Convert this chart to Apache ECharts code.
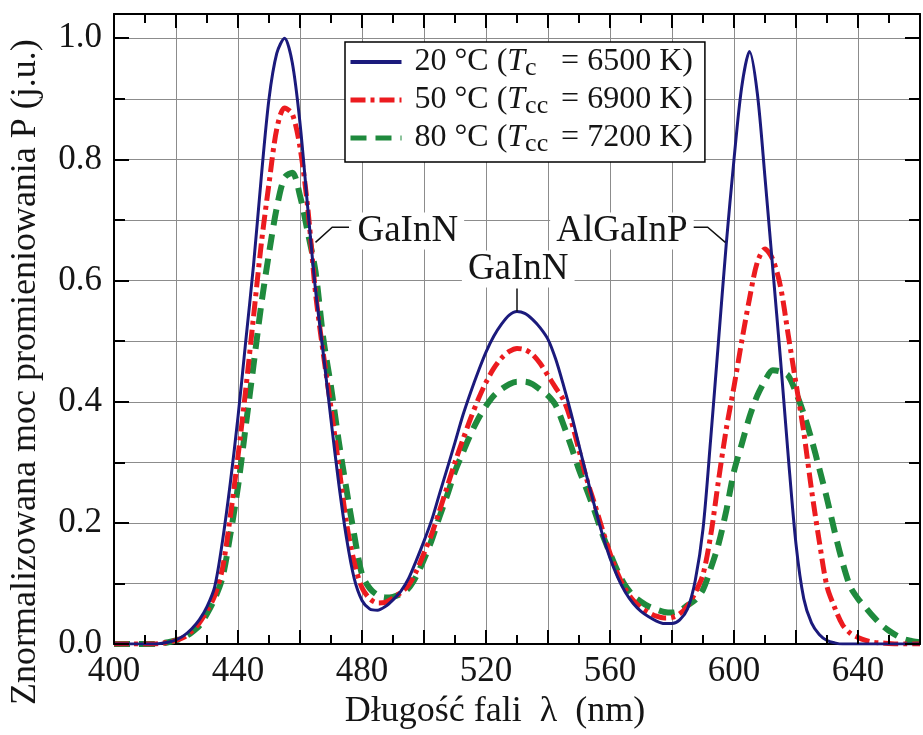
<!DOCTYPE html>
<html>
<head>
<meta charset="utf-8">
<script src="https://cdn.jsdelivr.net/npm/echarts@6/dist/echarts.min.js"></script>
<style>
  html, body { margin: 0; padding: 0; background: #ffffff; }
  #chart { width: 923px; height: 735px; }
</style>
</head>
<body>
<div id="chart"></div>
<script>
// Wavelength sampling (nm), one row per 20 nm
const wavelengths = [
  400, 402.5, 405, 407.5, 410, 412.5, 415, 417.5,
  420, 422.5, 425, 427.5, 430, 432.5, 435, 437.5,
  440, 442.5, 445, 447.5, 450, 452.5, 455, 457.5,
  460, 462.5, 465, 467.5, 470, 472.5, 475, 477.5,
  480, 482.5, 485, 487.5, 490, 492.5, 495, 497.5,
  500, 502.5, 505, 507.5, 510, 512.5, 515, 517.5,
  520, 522.5, 525, 527.5, 530, 532.5, 535, 537.5,
  540, 542.5, 545, 547.5, 550, 552.5, 555, 557.5,
  560, 562.5, 565, 567.5, 570, 572.5, 575, 577.5,
  580, 582.5, 585, 587.5, 590, 592.5, 595, 597.5,
  600, 602.5, 605, 607.5, 610, 612.5, 615, 617.5,
  620, 622.5, 625, 627.5, 630, 632.5, 635, 637.5,
  640, 642.5, 645, 647.5, 650, 652.5, 655, 657.5,
  660
];

// Normalised radiant power at 20 °C
const power20C = [
  0, 0, 0, 0, 0, 0, 0.001, 0.003,
  0.007, 0.014, 0.025, 0.04, 0.062, 0.095, 0.17, 0.265,
  0.375, 0.5, 0.625, 0.77, 0.9, 0.975, 1.0, 0.96,
  0.86, 0.72, 0.585, 0.48, 0.37, 0.265, 0.175, 0.108,
  0.072, 0.058, 0.056, 0.062, 0.073, 0.087, 0.108, 0.138,
  0.17, 0.205, 0.248, 0.29, 0.333, 0.377, 0.415, 0.45,
  0.482, 0.508, 0.528, 0.543, 0.549, 0.546, 0.536, 0.522,
  0.503, 0.47, 0.427, 0.38, 0.328, 0.277, 0.228, 0.182,
  0.142, 0.11, 0.085, 0.067, 0.054, 0.045, 0.038, 0.034,
  0.034, 0.04, 0.058, 0.105, 0.19, 0.34, 0.5, 0.66,
  0.8, 0.92, 0.978, 0.91, 0.77, 0.62, 0.47, 0.31,
  0.165, 0.075, 0.035, 0.016, 0.006, 0.002, 0, 0,
  0, 0, 0, 0, 0, 0, 0, 0,
  0
];

// Normalised radiant power at 50 °C
const power50C = [
  0, 0, 0, 0, 0, 0, 0.001, 0.003,
  0.006, 0.011, 0.021, 0.035, 0.055, 0.08, 0.125, 0.21,
  0.31, 0.42, 0.54, 0.66, 0.76, 0.85, 0.885, 0.875,
  0.82, 0.72, 0.58, 0.48, 0.39, 0.295, 0.2, 0.135,
  0.093, 0.075, 0.068, 0.069, 0.076, 0.085, 0.097, 0.12,
  0.15, 0.182, 0.22, 0.26, 0.3, 0.337, 0.372, 0.404,
  0.432, 0.455, 0.472, 0.483, 0.488, 0.486, 0.478, 0.463,
  0.443, 0.423, 0.403, 0.368, 0.32, 0.272, 0.232, 0.19,
  0.15, 0.116, 0.09, 0.072, 0.06, 0.052, 0.046, 0.043,
  0.044, 0.05, 0.063, 0.085, 0.115, 0.18, 0.27, 0.355,
  0.425, 0.5, 0.57, 0.63, 0.652, 0.635, 0.59, 0.51,
  0.43, 0.35, 0.255, 0.17, 0.095, 0.06, 0.032, 0.018,
  0.011, 0.006, 0.003, 0.002, 0.001, 0, 0, 0,
  0
];

// Normalised radiant power at 80 °C
const power80C = [
  0, 0, 0, 0, 0, 0, 0.001, 0.003,
  0.006, 0.011, 0.019, 0.03, 0.05, 0.075, 0.11, 0.18,
  0.26, 0.36, 0.46, 0.56, 0.645, 0.72, 0.77, 0.778,
  0.74, 0.68, 0.615, 0.505, 0.425, 0.335, 0.255, 0.18,
  0.115, 0.092, 0.081, 0.077, 0.078, 0.083, 0.092, 0.112,
  0.14, 0.172, 0.21, 0.246, 0.285, 0.316, 0.346, 0.372,
  0.393, 0.41, 0.421, 0.429, 0.433, 0.433, 0.429, 0.42,
  0.41, 0.394, 0.362, 0.326, 0.288, 0.255, 0.22, 0.182,
  0.15, 0.12, 0.096, 0.08, 0.07, 0.062, 0.057, 0.053,
  0.052, 0.055, 0.064, 0.073, 0.09, 0.125, 0.165, 0.22,
  0.285, 0.33, 0.375, 0.41, 0.435, 0.452, 0.45, 0.443,
  0.415, 0.38, 0.338, 0.29, 0.24, 0.185, 0.135, 0.095,
  0.075, 0.06, 0.045, 0.032, 0.022, 0.014, 0.008, 0.005,
  0.003
];

const seriesNames = ['20 °C', '50 °C', '80 °C'];
const colourTemps = ['6500', '6900', '7200'];
const cctSubscripts = ['c', 'cc', 'cc'];
const xTickLabels = [400, 440, 480, 520, 560, 600, 640];
const yTickLabels = [0, 0.2, 0.4, 0.6, 0.8, 1.0];

const X_MIN = 400, X_MAX = 660, X_GRID_STEP = 20, X_TICK_STEP = 10;
const Y_MIN = 0, Y_MAX = 1.04, Y_GRID_STEP = 0.1, Y_LONG_TICK_STEP = 0.2;

const SERIF = '"Liberation Serif", "Times New Roman", serif';
const INK = '#151515';
const GRID_GREY = '#8c8c8c';

const lineStyles = [
  { color: '#1b1a7c', width: 3, type: 'solid' },
  { color: '#ec1b1f', width: 5, type: [15, 5, 4, 5] },
  { color: '#1f8a3d', width: 6, type: [16, 9] }
];

// Peak labels: text anchor and leader polyline, in data coordinates
const peakNotes = [
  { text: 'GaInN',   at: [476.6, 0.682], align: 'left',   leader: [[465.0, 0.663], [470.4, 0.688], [475.8, 0.688]] },
  { text: 'GaInN',   at: [530.4, 0.619], align: 'center', leader: [[530.0, 0.587], [530.0, 0.549]] },
  { text: 'AlGaInP', at: [587.0, 0.682], align: 'right',  leader: [[586.7, 0.688], [591.5, 0.688], [597.2, 0.663]] }
];

const pairs = vals => wavelengths.map((w, i) => [w, vals[i]]);
const seriesValues = [power20C, power50C, power80C];

const isOn = (v, list) => list.some(t => Math.abs(t - v) < 1e-6);
const isMultiple = (v, step) => Math.abs(v / step - Math.round(v / step)) < 1e-6;
const blackLine = () => ({ color: '#000', width: 2 });

function xAxisDef(pos, withLabels) {
  return {
    type: 'value', position: pos, min: X_MIN, max: X_MAX, interval: X_GRID_STEP,
    axisLine: { show: true, onZero: false, lineStyle: blackLine() },
    axisTick: { show: false },
    splitLine: { show: withLabels, lineStyle: { color: GRID_GREY, width: 1 } },
    axisLabel: {
      show: withLabels, margin: 10, color: INK, fontFamily: SERIF, fontSize: 35,
      formatter: v => isOn(v, xTickLabels) ? String(v) : ''
    }
  };
}

function yAxisDef(pos, withGrid, withLabels) {
  return {
    type: 'value', position: pos, min: Y_MIN, max: Y_MAX, interval: Y_GRID_STEP,
    axisLine: { show: true, onZero: false, lineStyle: blackLine() },
    axisTick: { show: false },
    splitLine: { show: withGrid, lineStyle: { color: GRID_GREY, width: 1 } },
    axisLabel: {
      show: withLabels, margin: 12, color: INK, fontFamily: SERIF, fontSize: 35,
      formatter: v => isOn(v, yTickLabels) ? v.toFixed(1) : ''
    }
  };
}

const bottomAxis = xAxisDef('bottom', true);
bottomAxis.name = 'Długość fali  λ  (nm)';
bottomAxis.nameLocation = 'middle';
bottomAxis.nameGap = 48;
bottomAxis.nameTextStyle = { fontFamily: SERIF, fontSize: 36, color: INK, padding: [0, 44, 0, 0] };

const leftAxis = yAxisDef('left', true, true);
leftAxis.name = 'Znormalizowana moc promieniowania P (j.u.)';
leftAxis.nameLocation = 'middle';
leftAxis.nameGap = 70;
leftAxis.nameTextStyle = { fontFamily: SERIF, fontSize: 36, color: INK, padding: [0, 86, 0, 0] };

const legendRich = {
  n: { fontFamily: SERIF, fontSize: 32, color: INK, lineHeight: 38 },
  t: { fontFamily: SERIF, fontSize: 32, fontStyle: 'italic', color: INK, lineHeight: 38 },
  s: { fontFamily: SERIF, fontSize: 26, color: INK, lineHeight: 26, verticalAlign: 'bottom', width: 36 }
};

const chart = echarts.init(document.getElementById('chart'), null, { renderer: 'canvas' });

chart.setOption({
  animation: false,
  backgroundColor: '#ffffff',
  grid: { left: 114, right: -7, top: 14, bottom: 88, containLabel: false },
  xAxis: [bottomAxis, xAxisDef('top', false)],
  yAxis: [leftAxis, yAxisDef('right', false, false)],
  legend: {
    orient: 'vertical', left: 345, top: 42,
    itemWidth: 51, itemHeight: 14, itemGap: 3,
    padding: [4, 12, 5, 3],
    backgroundColor: '#ffffff', borderColor: '#000', borderWidth: 1.5, borderRadius: 0,
    textStyle: { fontFamily: SERIF, fontSize: 32, color: INK, rich: legendRich },
    data: seriesNames.map((name, i) => ({
      name,
      itemStyle: { color: 'rgba(0,0,0,0)', borderColor: 'rgba(0,0,0,0)', borderWidth: 0 },
      lineStyle: { width: i === 0 ? 4 : 5, type: lineStyles[i].type, color: lineStyles[i].color }
    })),
    formatter: name => {
      const i = seriesNames.indexOf(name);
      return '{n| ' + name + ' (}{t|T}{s|' + cctSubscripts[i] + '}{n|= ' + colourTemps[i] + ' K)}';
    }
  },
  series: seriesNames.map((name, i) => ({
    name, type: 'line', xAxisIndex: 0, yAxisIndex: 0,
    data: pairs(seriesValues[i]),
    smooth: 0.3, showSymbol: false, symbol: 'none', clip: true, z: 3 + (2 - i),
    lineStyle: { color: lineStyles[i].color, width: lineStyles[i].width, type: lineStyles[i].type, cap: 'butt', join: 'round' },
    itemStyle: { color: lineStyles[i].color }
  }))
});

// Inward frame ticks, drawn as a 'lines' series in data space (tick lengths are
// converted from pixels through the axis scales), plus peak labels with leaders
function placeOverlays() {
  const toPx = p => chart.convertToPixel({ xAxisIndex: 0, yAxisIndex: 0 }, p);
  const origin = toPx([X_MIN, Y_MIN]);
  const far = toPx([X_MAX, Y_MAX]);
  const pxPerX = (far[0] - origin[0]) / (X_MAX - X_MIN);
  const pxPerY = (origin[1] - far[1]) / (Y_MAX - Y_MIN);

  const tickSegments = [];
  for (let k = 0; X_MIN + k * X_TICK_STEP <= X_MAX; k++) {
    const v = X_MIN + k * X_TICK_STEP;
    const dy = (isMultiple(v, X_GRID_STEP) ? 14 : 9) / pxPerY;
    tickSegments.push({ coords: [[v, Y_MIN], [v, Y_MIN + dy]] });
    tickSegments.push({ coords: [[v, Y_MAX], [v, Y_MAX - dy]] });
  }
  for (let k = 0; Y_MIN + k * Y_GRID_STEP <= Y_MAX + 1e-9; k++) {
    const v = +(Y_MIN + k * Y_GRID_STEP).toFixed(2);
    const dx = (isMultiple(v, Y_LONG_TICK_STEP) ? 15 : 11) / pxPerX;
    tickSegments.push({ coords: [[X_MIN, v], [X_MIN + dx, v]] });
    tickSegments.push({ coords: [[X_MAX, v], [X_MAX - dx, v]] });
  }

  const elements = [];
  peakNotes.forEach(note => {
    elements.push({
      type: 'polyline', z: 20, silent: true,
      shape: { points: note.leader.map(toPx) },
      style: { stroke: '#111', lineWidth: 1.5, fill: null }
    });
    const p = toPx(note.at);
    elements.push({
      type: 'text', z: 21, silent: true, x: p[0], y: p[1],
      style: {
        text: note.text, fontFamily: SERIF, fontSize: 37, fill: INK,
        align: note.align, verticalAlign: 'middle',
        backgroundColor: '#ffffff', padding: [0, 6, 0, 6]
      }
    });
  });

  const series = chart.getOption().series.slice(0, seriesNames.length);
  series.push({
    id: 'frameTicks', type: 'lines', coordinateSystem: 'cartesian2d',
    xAxisIndex: 0, yAxisIndex: 0, polyline: false, silent: true, clip: false,
    z: 12, animation: false,
    lineStyle: { color: '#000000', width: 2, opacity: 1, curveness: 0 },
    data: tickSegments
  });
  chart.setOption({ series: series, graphic: { elements: elements } });
}
placeOverlays();
</script>
</body>
</html>
